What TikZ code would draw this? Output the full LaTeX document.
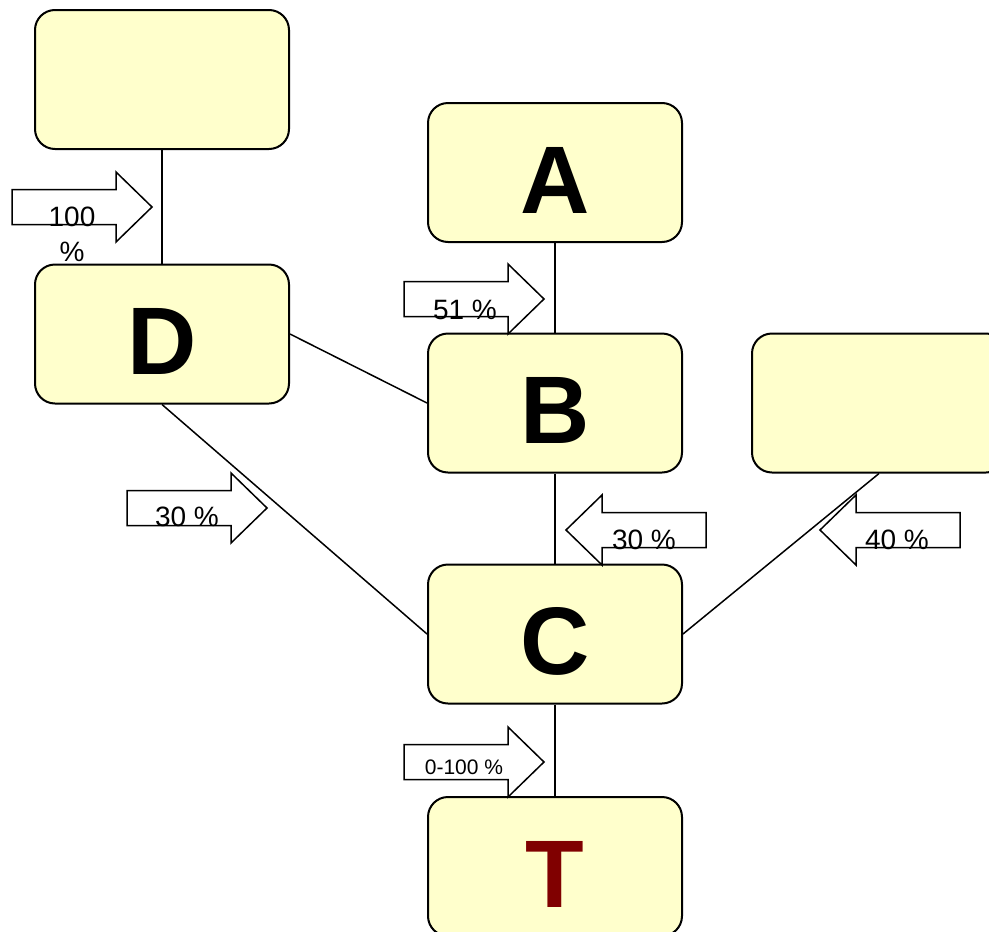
\documentclass[tikz,border=0pt]{standalone}
\usepackage{fontspec}
\setmainfont{Liberation Sans}
\usepackage{tikz}
\usetikzlibrary{positioning}

\definecolor{boxfill}{HTML}{FFFFCC}
\definecolor{tred}{HTML}{800000}

\tikzset{
  entity/.style={rectangle,rounded corners=20pt,draw=black,line width=2pt,fill=boxfill,
    minimum width=254pt,minimum height=139pt,inner sep=0pt,
    text height=81pt,text depth=0pt,font=\fontsize{96}{96}\selectfont\bfseries},
  link/.style={line width=1.5pt},
  share/.style={font=\fontsize{28}{35}\selectfont,align=center,inner sep=0pt},
  smallshare/.style={share,font=\fontsize{21}{25}\selectfont},
  pics/sharearrow/.style={code={
    \draw[line width=1.5pt,fill=white] (0,-17.5) -- (104,-17.5) -- (104,-35) -- (140,0)
      -- (104,35) -- (104,17.5) -- (0,17.5) -- cycle;}}
}

\begin{document}
\begin{tikzpicture}[x=1pt,y=-1pt]
  \useasboundingbox (0,0) rectangle (989,932);
  %Nodes
  \node at (162,79.5) [entity] (owner) {};
  \node at (555,172.5) [entity] (A) {A};
  \node at (162,334) [entity] (D) {D};
  \node at (555,403) [entity] (B) {B};
  \node at (879,403) [entity] (partner) {};
  \node at (555,634) [entity] (C) {C};
  \node at (555,866.5) [entity] (T) {\textcolor{tred}{T}};

  %Lines
  \draw[link] (owner) -- (D);
  \draw[link] (A) -- (B);
  \draw[link] (D.east) -- (B.west);
  \draw[link] (D.south) -- (C.west);
  \draw[link] (B) -- (C);
  \draw[link] (partner.south) -- (C.east);
  \draw[link] (C) -- (T);

  %Shares
  \pic (arrowowner) at (12,207) {sharearrow};
  \pic (arrowA) at (404,299) {sharearrow};
  \pic (arrowD) at (127,508) {sharearrow};
  \pic[rotate=180] (arrowB) at (706,530) {sharearrow};
  \pic[rotate=180] (arrowpartner) at (960,530) {sharearrow};
  \pic (arrowC) at (404,762) {sharearrow};

  \node at (72,234.5) [share] (pctowner) {100\\\%};
  \node at (465,310) [share] (pctA) {51 \%};
  \node at (187,517) [share] (pctD) {30 \%};
  \node at (644,540) [share] (pctB) {30 \%};
  \node at (897,540) [share] (pctpartner) {40 \%};
  \node at (464,767) [smallshare] (pctC) {0-100 \%};
\end{tikzpicture}
\end{document}
